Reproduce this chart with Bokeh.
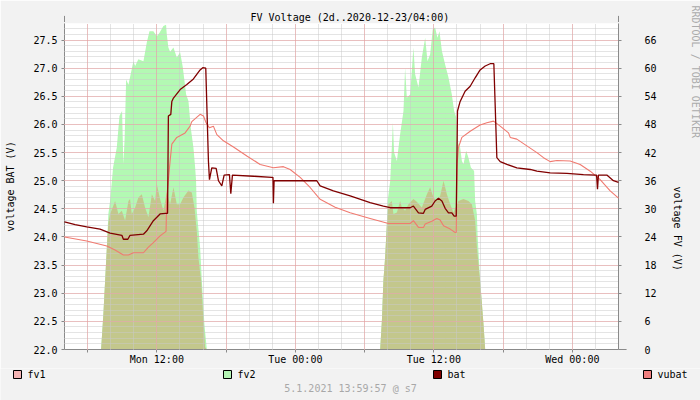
import math
from bokeh.plotting import figure
from bokeh.layouts import column
from bokeh.core.properties import value
from bokeh.models import (Range1d, LinearAxis, SingleIntervalTicker, FixedTicker, Grid,
                          PrintfTickFormatter, Arrow, NormalHead, Title, Label)
from bokeh.embed import file_html
from bokeh.resources import INLINE

# ---------------- data (hours since Mon 2020-12-21 04:00) ----------------
title_text = "FV Voltage (2d..2020-12-23/04:00)"
footer_text = "5.1.2021 13:59:57 @ s7"
left_label = "voltage BAT (V)"
right_label = "voltage FV (V)"
watermark = "RRDTOOL / TOBI OETIKER"

x_tick_hours = [8, 20, 32, 44]
x_tick_labels = ["Mon 12:00", "Tue 00:00", "Tue 12:00", "Wed 00:00"]
x_major_hours = [2, 8, 14, 20, 26, 32, 38, 44]

bat_t = [0, 0.92, 1.93, 3.08, 3.95, 4.97, 5.10, 5.49, 5.68, 6.84, 7.13, 7.70, 8.28, 8.78, 8.93,
         9.00, 9.21, 9.30, 9.44, 10.02, 10.60, 11.17, 11.75, 11.98, 12.24, 12.47, 12.56, 12.76,
         13.14, 13.34, 13.63, 13.83, 14.29, 14.41, 14.55, 16.37, 17.96, 18.06, 18.10, 18.16,
         20.42, 21.86, 22.15, 23.30, 24.75, 26.48, 27.63, 28.22, 29.95, 30.23, 30.67, 31.10,
         31.25, 31.82, 32.11, 32.40, 32.70, 32.98, 33.27, 33.56, 33.76, 33.94, 34.05, 34.28,
         34.71, 35.15, 35.58, 36.01, 36.45, 36.88, 37.20, 37.46, 37.75, 38.33, 39.19, 40.35,
         40.93, 42.08, 43.53, 44.96, 45.98, 46.10, 46.18, 46.26, 46.99, 47.56, 48.0]
bat_v = [24.27, 24.22, 24.18, 24.14, 24.07, 24.03, 23.96, 23.96, 24.03, 24.05, 24.11, 24.29, 24.41,
         24.42, 24.42, 26.15, 26.18, 26.41, 26.47, 26.62, 26.71, 26.81, 26.97, 27.01, 27.00,
         25.35, 25.02, 25.23, 25.22, 25.00, 24.91, 25.10, 25.11, 24.77, 25.10, 25.08, 25.06,
         25.06, 24.60, 25.00, 25.00, 25.00, 24.91, 24.82, 24.73, 24.61, 24.55, 24.52, 24.52,
         24.55, 24.43, 24.42, 24.49, 24.55, 24.64, 24.69, 24.64, 24.51, 24.43, 24.43, 24.37,
         24.37, 26.24, 26.41, 26.59, 26.68, 26.83, 26.97, 27.04, 27.08, 27.08, 25.41, 25.34,
         25.29, 25.23, 25.20, 25.17, 25.14, 25.13, 25.11, 25.10, 25.10, 24.85, 25.10, 25.10,
         25.00, 24.97]

vubat_t = [0, 1.93, 3.67, 4.38, 5.10, 5.54, 5.97, 6.84, 7.27, 7.70, 8.28, 8.80, 8.86, 9.15, 9.30,
           9.73, 10.45, 10.88, 11.03, 11.75, 12.04, 12.27, 12.56, 12.90, 13.20, 13.77, 14.64,
           15.80, 16.95, 18.10, 18.97, 19.55, 20.42, 21.28, 22.15, 23.45, 24.75, 26.48, 28.07,
           29.95, 30.23, 30.67, 31.10, 31.25, 31.82, 32.26, 32.55, 32.84, 33.42, 33.85, 33.94,
           34.02, 34.13, 34.43, 35.15, 36.01, 36.59, 37.17, 37.75, 38.47, 38.62, 39.19, 40.06,
           40.93, 41.50, 42.08, 42.66, 43.81, 44.68, 45.55, 46.41, 47.28, 48.0]
vubat_v = [24.00, 23.93, 23.84, 23.77, 23.68, 23.68, 23.72, 23.72, 23.82, 23.90, 24.02, 24.10,
           24.70, 25.35, 25.65, 25.77, 25.85, 25.97, 26.05, 26.18, 26.15, 26.03, 25.94, 25.97,
           25.82, 25.71, 25.60, 25.44, 25.29, 25.23, 25.25, 25.20, 25.06, 24.88, 24.67, 24.53,
           24.43, 24.33, 24.24, 24.24, 24.29, 24.17, 24.17, 24.23, 24.28, 24.33, 24.30, 24.20,
           24.14, 24.08, 24.08, 25.30, 25.59, 25.77, 25.88, 25.99, 26.03, 26.06, 25.97, 25.85,
           25.77, 25.74, 25.62, 25.50, 25.41, 25.34, 25.36, 25.35, 25.29, 25.17, 25.02, 24.82,
           24.69]

fv2_t = [3.17, 3.37, 3.52, 3.67, 3.80, 3.95, 4.21, 4.53, 4.76, 4.99, 5.10, 5.21, 5.34, 5.54,
         5.97, 6.12, 6.40, 6.84, 7.13, 7.36, 7.70, 8.00, 8.22, 8.57, 8.80, 8.86, 9.00, 9.15,
         9.44, 9.73, 10.02, 10.25, 10.54, 10.74, 10.94, 11.17, 11.32, 11.40, 11.46, 11.75,
         11.90, 12.12, 12.33,
         27.35, 27.50, 27.63, 27.78, 27.93, 28.00, 28.22, 28.36, 28.45, 28.56, 28.80, 29.08,
         29.37, 29.51, 29.66, 29.95, 30.23, 30.38, 30.67, 30.96, 31.25, 31.45, 31.68, 31.91,
         32.11, 32.31, 32.49, 32.70, 32.98, 33.27, 33.56, 33.76, 33.94, 34.11, 34.28, 34.43,
         34.57, 34.80, 35.00, 35.21, 35.49, 35.58, 35.73, 35.80, 36.01, 36.30, 36.45]
fv2_v = [0, 7.6, 14.7, 21.8, 28.9, 31.7, 38.8, 43.1, 49.8, 50.9, 39.5, 45.0, 57.6, 56.5,
         61.5, 60.5, 61.9, 61.5, 65.5, 67.9, 67.9, 66.8, 67.5, 69.0, 69.3, 67.3, 64.4, 63.5,
         64.4, 62.3, 63.4, 60.2, 54.4, 53.0, 47.3, 43.1, 38.8, 36.0, 29.6, 21.8,
         14.7, 5.5, 0,
         0, 6.2, 14.7, 19.7, 26.8, 31.7, 36.0, 43.1, 48.4, 42.0, 40.2, 45.9,
         50.9, 60.1, 53.7, 54.4, 64.4, 58.7, 55.9, 62.3, 66.5, 61.5, 63.0, 68.3,
         68.7, 66.5, 67.9, 63.7, 60.8, 58.0, 54.4, 50.9, 49.5, 44.0, 43.1, 40.2,
         39.5, 42.4, 40.9, 38.8, 38.1, 31.7, 28.9, 24.0, 14.7, 5.5, 0]

fv1_t = [3.17, 3.37, 3.52, 3.67, 3.80, 3.95, 4.24, 4.38, 4.53, 4.67, 4.97, 5.25, 5.54, 5.68,
         5.83, 6.12, 6.40, 6.70, 6.98, 7.27, 7.57, 7.85, 8.00, 8.28, 8.57, 8.86, 9.15, 9.44,
         9.73, 10.02, 10.30, 10.74, 11.03, 11.26, 11.46, 11.60, 11.84, 12.04, 12.18, 12.33,
         27.35, 27.50, 27.63, 27.78, 27.93, 28.07, 28.36, 28.50, 28.80, 29.08, 29.23, 29.51,
         29.80, 30.23, 30.52, 30.96, 31.40, 31.68, 31.97, 32.26, 32.55, 32.84, 33.13, 33.42,
         33.70, 34.13, 34.57, 35.00, 35.29, 35.58, 35.73, 36.01, 36.30, 36.45]
fv1_v = [0, 7.6, 14.7, 21.8, 27.0, 28.9, 30.7, 31.7, 30.3, 28.9, 29.6, 27.5, 31.7, 32.1,
         28.9, 30.3, 32.4, 33.1, 30.3, 28.2, 33.1, 31.7, 35.3, 32.1, 29.6, 33.5, 31.0, 34.6,
         31.0, 31.0, 32.4, 33.9, 33.5, 30.3, 25.3, 19.7, 14.7, 6.2, 0.5, 0,
         0, 6.2, 14.7, 19.7, 26.8, 31.0, 31.7, 28.9, 29.2, 31.7, 30.3, 29.6,
         31.0, 32.1, 31.5, 30.3, 33.1, 34.6, 32.4, 31.7, 32.8, 36.0, 33.1, 31.0,
         29.2, 31.7, 32.1, 31.7, 31.0, 27.5, 21.8, 14.7, 5.5, 0]

series_names = ["fv1", "fv2", "bat", "vubat"]
legend_colors = ["#F5B5B5", "#B5F5B5", "#7F0000", "#F08080"]

# ---------------- styling ----------------
FONT = "DejaVu Sans Mono"
FS = "10px"
BG = "#F2F2F2"
X0, X1 = 0, 48
Y0, Y1 = 22.0, 27.795
FV_MAX = 69.54

p = figure(width=700, height=368, x_range=Range1d(X0, X1), y_range=Range1d(Y0, Y1),
           output_backend="svg", toolbar_location=None, title=None,
           min_border_left=64, min_border_right=82, min_border_top=23, min_border_bottom=19,
           background_fill_color="white", border_fill_color=BG, outline_line_color=None)
p.grid.visible = False
p.extra_y_ranges = {"fv": Range1d(0, FV_MAX)}

# areas on the FV scale
p.varea(x=fv2_t, y1=[0] * len(fv2_t), y2=fv2_v, fill_color="#B3F9B3", y_range_name="fv")
p.varea(x=fv1_t, y1=[0] * len(fv1_t), y2=fv1_v, fill_color="#C3C78C", y_range_name="fv")

# grids (drawn over the areas)
def add_grid(dim, ticker, color):
    g = Grid(dimension=dim, ticker=ticker, grid_line_color=color, grid_line_dash="1 1",
             grid_line_width=1, level="guide")
    p.add_layout(g)

add_grid(0, SingleIntervalTicker(interval=2, num_minor_ticks=0), "#C8C8C8")
add_grid(1, SingleIntervalTicker(interval=0.1, num_minor_ticks=0), "#C8C8C8")
add_grid(0, FixedTicker(ticks=x_major_hours), "#EE9A9A")
add_grid(1, SingleIntervalTicker(interval=0.5, num_minor_ticks=0), "#EE9A9A")

# lines
r_vubat = p.line(vubat_t, vubat_v, line_color="#F07A70", line_width=1.1)
r_bat = p.line(bat_t, bat_v, line_color="#800000", line_width=1.3)
r_vubat.level = "annotation"
r_bat.level = "annotation"

# title (above)
p.add_layout(Title(text=title_text, align="left", offset=186, standoff=2,
                   text_font=FONT, text_font_size=FS, text_font_style="normal",
                   text_color="black"), "above")

# axes
AX = "#8A8A8A"
xa = p.xaxis[0]
xa.ticker = FixedTicker(ticks=x_major_hours)
overrides = {h: "" for h in x_major_hours}
overrides.update({h: lab for h, lab in zip(x_tick_hours, x_tick_labels)})
xa.major_label_overrides = overrides
ya = p.yaxis[0]
ya.ticker = SingleIntervalTicker(interval=0.5, num_minor_ticks=0)
ya.formatter = PrintfTickFormatter(format="%.1f")
ya.axis_label = left_label
ya.axis_label_standoff = 14

ra = LinearAxis(y_range_name="fv", ticker=SingleIntervalTicker(interval=6, num_minor_ticks=0))
ra.axis_label = right_label
ra.axis_label_standoff = 18
ra.axis_label_orientation = -math.pi / 2
p.add_layout(ra, "right")

for ax in (xa, ya, ra):
    ax.axis_line_color = AX
    ax.major_tick_line_color = AX
    ax.major_tick_out = 3
    ax.major_tick_in = 0
    ax.minor_tick_line_color = None
    ax.major_label_text_font = FONT
    ax.major_label_text_font_size = FS
    ax.major_label_text_color = "black"
    ax.axis_label_text_font = FONT
    ax.axis_label_text_font_size = FS
    ax.axis_label_text_font_style = "normal"
    ax.axis_label_text_color = "black"
xa.major_label_standoff = 1
ya.major_label_standoff = 4
ra.major_label_standoff = 23

# watermark (right, outside the axis)
p.add_layout(Title(text=watermark, align="left", offset=-18, standoff=-4,
                   text_font=FONT, text_font_size=FS, text_font_style="normal",
                   text_color="#ABABAB"), "right")

# axis arrows
ARW = "#A02020"
for xs, ys, xe, ye in [(X0, Y1, X0, 27.93), (X1, Y1, X1, 27.93), (X1, Y0, 48.7, Y0)]:
    p.add_layout(Arrow(x_start=xs, y_start=ys, x_end=xe, y_end=ye, line_color=AX, line_width=1,
                       end=NormalHead(size=6, fill_color=ARW, line_color=ARW, line_width=1)))

# ---------------- legend + footer strip (pixel-space figure under the chart) ----------------
legend_x = [13, 223, 433, 643]          # left edge of each legend swatch (px)
p2 = figure(width=700, height=32, x_range=Range1d(0, 700), y_range=Range1d(32, 0),
            output_backend="svg", toolbar_location=None, title=None,
            x_axis_location=None, y_axis_location=None, min_border=0,
            background_fill_color=BG, border_fill_color=BG, outline_line_color=None)
try:
    p2.frame_align = False
except Exception:
    pass
p2.grid.visible = False
p2.quad(left=legend_x, right=[x + 8 for x in legend_x], top=[2] * 4, bottom=[10] * 4,
        fill_color=legend_colors, line_color="black", line_width=1)
p2.text(x=[x + 14 for x in legend_x], y=[5.5] * 4, text=series_names,
        text_font=value(FONT), text_font_size=value(FS), text_color="black",
        text_align="left", text_baseline="middle")
p2.add_layout(Label(x=350, y=20, text=footer_text, text_font=FONT, text_font_size=FS,
                    text_color="#A8A8A8", text_align="center", text_baseline="middle"))

open("out.html", "w").write(file_html(column(p, p2, spacing=0), INLINE))
